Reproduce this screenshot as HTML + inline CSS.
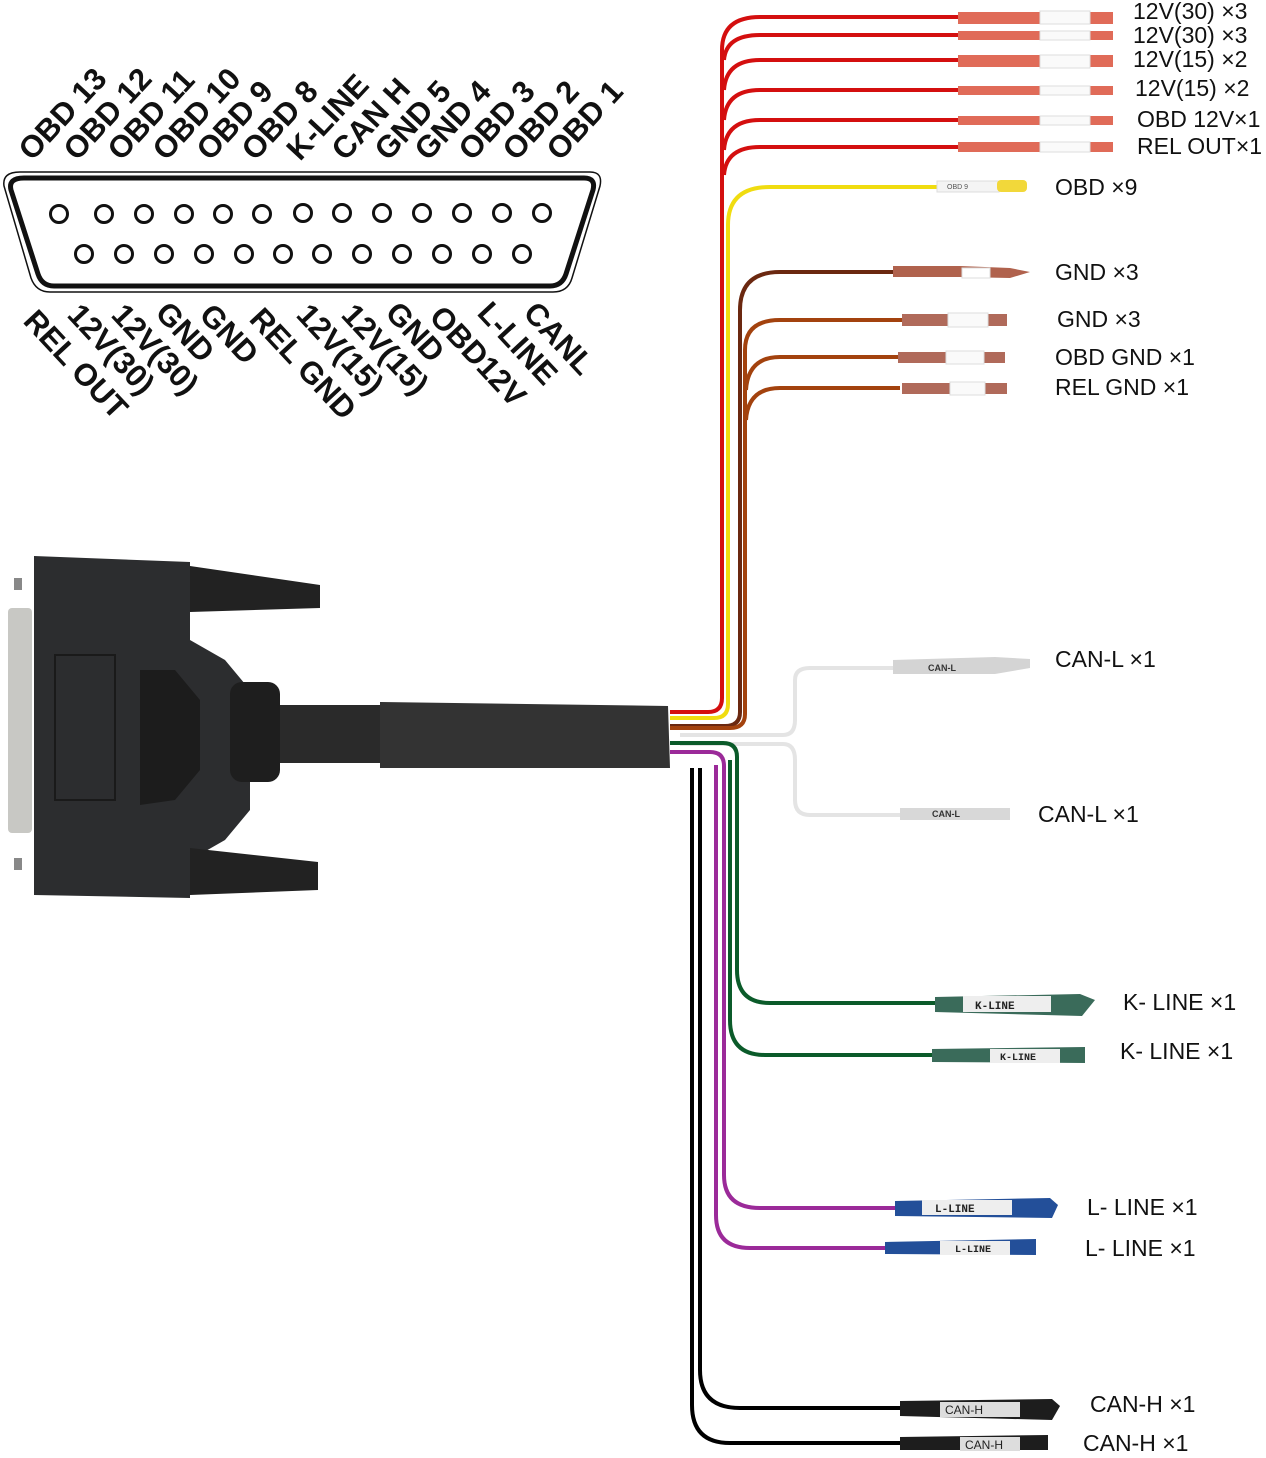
<!DOCTYPE html>
<html><head><meta charset="utf-8"><style>
html,body{margin:0;padding:0;background:#fff;}
svg{display:block;}
.lb{font-family:"Liberation Sans",sans-serif;font-weight:bold;font-size:31px;fill:#111;}
.rl{font-family:"Liberation Sans",sans-serif;font-size:23px;fill:#111;}
</style></head><body>
<svg width="1266" height="1458" viewBox="0 0 1266 1458" xmlns="http://www.w3.org/2000/svg">
<g class="lb">
<text transform="translate(32,162) rotate(-47)">OBD 13</text>
<text transform="translate(77,162) rotate(-47)">OBD 12</text>
<text transform="translate(121,162) rotate(-47)">OBD 11</text>
<text transform="translate(166,162) rotate(-47)">OBD 10</text>
<text transform="translate(210,162) rotate(-47)">OBD 9</text>
<text transform="translate(255,162) rotate(-47)">OBD 8</text>
<text transform="translate(300,162) rotate(-47)">K-LINE</text>
<text transform="translate(345,162) rotate(-47)">CAN H</text>
<text transform="translate(388,162) rotate(-47)">GND 5</text>
<text transform="translate(428,162) rotate(-47)">GND 4</text>
<text transform="translate(472,162) rotate(-47)">OBD 3</text>
<text transform="translate(516,162) rotate(-47)">OBD 2</text>
<text transform="translate(560,162) rotate(-47)">OBD 1</text>
</g>
<path d="M20,172 L590,172 Q603,172 600,186 L572,278 Q568,292 553,292 L50,292 Q36,292 31,278 L4,186 Q2,172 20,172 Z" fill="none" stroke="#111" stroke-width="1.5"/>
<path d="M24,178 L584,178 Q596,178 593,190 L566,274 Q562,286 550,286 L54,286 Q42,286 38,274 L11,190 Q8,178 24,178 Z" fill="none" stroke="#111" stroke-width="5"/>
<g fill="none" stroke="#111" stroke-width="3">
<circle cx="59" cy="214" r="8.5"/><circle cx="104" cy="214" r="8.5"/><circle cx="144" cy="214" r="8.5"/><circle cx="184" cy="214" r="8.5"/><circle cx="223" cy="214" r="8.5"/><circle cx="262" cy="214" r="8.5"/><circle cx="303" cy="213" r="8.5"/><circle cx="342" cy="213" r="8.5"/><circle cx="382" cy="213" r="8.5"/><circle cx="422" cy="213" r="8.5"/><circle cx="462" cy="213" r="8.5"/><circle cx="502" cy="213" r="8.5"/><circle cx="542" cy="213" r="8.5"/>
<circle cx="84" cy="254" r="8.5"/><circle cx="124" cy="254" r="8.5"/><circle cx="164" cy="254" r="8.5"/><circle cx="204" cy="254" r="8.5"/><circle cx="244" cy="254" r="8.5"/><circle cx="283" cy="254" r="8.5"/><circle cx="322" cy="254" r="8.5"/><circle cx="362" cy="254" r="8.5"/><circle cx="402" cy="254" r="8.5"/><circle cx="442" cy="254" r="8.5"/><circle cx="482" cy="254" r="8.5"/><circle cx="522" cy="254" r="8.5"/>
</g>
<g class="lb">
<text transform="translate(22,322) rotate(47)">REL OUT</text>
<text transform="translate(66,316) rotate(47)">12V(30)</text>
<text transform="translate(110,316) rotate(47)">12V(30)</text>
<text transform="translate(154,314) rotate(47)">GND</text>
<text transform="translate(198,316) rotate(47)">GND</text>
<text transform="translate(248,320) rotate(47)">REL GND</text>
<text transform="translate(295,316) rotate(47)">12V(15)</text>
<text transform="translate(340,316) rotate(47)">12V(15)</text>
<text transform="translate(384,314) rotate(47)">GND</text>
<text transform="translate(428,318) rotate(47)">OBD12V</text>
<text transform="translate(476,314) rotate(47)">L-LINE</text>
<text transform="translate(522,314) rotate(47)">CANL</text>
</g>

<g fill="#2c2d2f">
<rect x="14" y="578" width="8" height="12" fill="#888"/>
<rect x="14" y="858" width="8" height="12" fill="#888"/>
<rect x="8" y="608" width="24" height="225" rx="4" fill="#c8c8c4"/>
<path d="M34,556 L190,562 L190,640 L225,660 L250,690 L250,810 L225,840 L190,860 L190,898 L34,895 Z"/>
<path d="M190,566 L320,585 L320,608 L190,612 Z" fill="#222"/>
<path d="M190,848 L318,862 L318,890 L190,895 Z" fill="#222"/>
<rect x="55" y="655" width="60" height="145" fill="none" stroke="#1a1a1a" stroke-width="2"/>
<path d="M140,670 L175,670 L200,700 L200,770 L175,800 L140,805 Z" fill="#1c1c1c"/>
<rect x="230" y="682" width="50" height="100" rx="12" fill="#1e1e1e"/>
<rect x="280" y="705" width="100" height="58" fill="#2a2a2a"/>
<path d="M380,702 L668,706 L670,768 L380,768 Z" fill="#333"/>
</g>

<g fill="none" stroke="#e4e4e4" stroke-width="4">
<path d="M680,735 L783,735 Q795,735 795,720 L795,680 Q795,668 810,668 L900,668"/>
<path d="M680,744 L783,744 Q795,744 795,760 L795,800 Q795,815 810,815 L905,815"/>
</g>
<path d="M893,660 L995,657 L1030,659 L1030,668 L995,674 L893,674 Z" fill="#d4d4d4"/>
<text x="928" y="671" font-family="Liberation Sans" font-size="9" font-weight="bold" fill="#333">CAN-L</text>
<path d="M900,808 L1010,808 L1010,820 L900,820 Z" fill="#d8d8d8"/>
<text x="932" y="817" font-family="Liberation Sans" font-size="9" font-weight="bold" fill="#333">CAN-L</text>

<g fill="none" stroke="#d40f0f" stroke-width="4">
<path d="M670,712 L708,712 Q722,712 722,698 L722,50 Q722,17 760,17 L960,17"/>
<path d="M724,60 Q726,35 760,35 L960,35"/>
<path d="M724,90 Q726,60 760,60 L960,60"/>
<path d="M724,120 Q726,90 760,90 L960,90"/>
<path d="M724,150 Q726,120 760,120 L960,120"/>
<path d="M724,175 Q726,147 760,147 L960,147"/>
</g>
<g fill="#e06b58">
<rect x="958" y="12" width="155" height="12"/><rect x="958" y="31" width="155" height="9"/><rect x="958" y="55" width="155" height="12"/><rect x="958" y="86" width="155" height="9"/><rect x="958" y="116" width="155" height="9"/><rect x="958" y="142" width="155" height="10"/>
</g>
<g fill="#fafafa" stroke="#ddd" stroke-width="1">
<rect x="1040" y="11" width="50" height="13"/><rect x="1040" y="31" width="50" height="9"/><rect x="1040" y="55" width="50" height="13"/><rect x="1040" y="86" width="50" height="9"/><rect x="1040" y="116" width="50" height="9"/><rect x="1040" y="142" width="50" height="10"/>
</g>
<path d="M670,718 L714,718 Q728,718 728,704 L728,225 Q728,187 770,187 L940,187" fill="none" stroke="#f0dc10" stroke-width="4"/>
<rect x="937" y="181" width="62" height="11" fill="#f4f4f4" stroke="#ddd"/>
<rect x="997" y="180" width="30" height="12" rx="4" fill="#f2d83a"/>
<text x="947" y="189" font-family="Liberation Sans" font-size="7" fill="#555">OBD 9</text>
<g fill="none" stroke-width="4">
<path d="M670,726 L725,726 Q740,726 740,712 L740,310 Q740,272 780,272 L895,272" stroke="#6b2810"/>
<path d="M670,728 L730,728 Q745,728 745,714 L745,350 Q745,320 780,320 L905,320" stroke="#a3420e"/>
<path d="M746,390 Q748,357 780,357 L900,357" stroke="#a3420e"/>
<path d="M746,420 Q748,388 780,388 L900,388" stroke="#a3420e"/>
</g>
<path d="M893,266 L960,266 L1010,268 L1030,272 L1010,278 L960,277 L893,277 Z" fill="#b0624d"/>
<rect x="962" y="268" width="28" height="10" fill="#fff" stroke="#ddd"/>
<rect x="902" y="314" width="105" height="12" fill="#b06a5a"/><rect x="948" y="313" width="40" height="14" fill="#fafafa" stroke="#ddd"/>
<rect x="898" y="352" width="107" height="11" fill="#b06a5a"/><rect x="946" y="351" width="38" height="13" fill="#fafafa" stroke="#ddd"/>
<rect x="902" y="383" width="105" height="11" fill="#b06a5a"/><rect x="950" y="382" width="35" height="13" fill="#fafafa" stroke="#ddd"/>

<g fill="none" stroke="#0b5b2a" stroke-width="4">
<path d="M670,743 L723,743 Q737,743 737,757 L737,970 Q737,1003 770,1003 L940,1003"/>
<path d="M730,760 L730,1020 Q730,1055 765,1055 L935,1055"/>
</g>
<path d="M935,997 L1080,994 L1095,1000 L1082,1016 L935,1012 Z" fill="#3a6b5a"/>
<rect x="963" y="996" width="88" height="16" fill="#eee"/>
<text x="975" y="1009" font-family="Liberation Mono" font-size="11" font-weight="bold" fill="#222">K-LINE</text>
<path d="M932,1049 L1085,1047 L1085,1063 L932,1062 Z" fill="#3a6b5a"/>
<rect x="990" y="1049" width="70" height="14" fill="#eee"/>
<text x="1000" y="1060" font-family="Liberation Mono" font-size="10" font-weight="bold" fill="#222">K-LINE</text>
<g fill="none" stroke="#9b2a99" stroke-width="4">
<path d="M670,752 L710,752 Q724,752 724,766 L724,1175 Q724,1208 760,1208 L900,1208"/>
<path d="M716,765 L716,1215 Q716,1248 750,1248 L890,1248"/>
</g>
<path d="M895,1201 L1050,1198 L1058,1205 L1052,1218 L895,1216 Z" fill="#234f99"/>
<rect x="922" y="1200" width="90" height="15" fill="#eee"/>
<text x="935" y="1212" font-family="Liberation Mono" font-size="11" font-weight="bold" fill="#222">L-LINE</text>
<path d="M885,1242 L1036,1239 L1036,1255 L885,1254 Z" fill="#234f99"/>
<rect x="940" y="1241" width="70" height="14" fill="#eee"/>
<text x="955" y="1252" font-family="Liberation Mono" font-size="10" font-weight="bold" fill="#222">L-LINE</text>
<g fill="none" stroke="#000" stroke-width="4">
<path d="M700,768 L700,1370 Q700,1408 740,1408 L905,1408"/>
<path d="M692,768 L692,1405 Q692,1443 730,1443 L905,1443"/>
</g>
<path d="M900,1401 L1052,1399 L1060,1406 L1052,1420 L900,1416 Z" fill="#1d1d1d"/>
<rect x="940" y="1402" width="80" height="15" fill="#ddd"/>
<text x="945" y="1414" font-family="Liberation Sans" font-size="12" fill="#222">CAN-H</text>
<path d="M900,1437 L1048,1435 L1048,1450 L900,1450 Z" fill="#1d1d1d"/>
<rect x="960" y="1437" width="60" height="14" fill="#ddd"/>
<text x="965" y="1449" font-family="Liberation Sans" font-size="12" fill="#222">CAN-H</text>

<g class="rl">
<text x="1133" y="19">12V(30) ×3</text>
<text x="1133" y="43">12V(30) ×3</text>
<text x="1133" y="67">12V(15) ×2</text>
<text x="1135" y="96">12V(15) ×2</text>
<text x="1137" y="127">OBD 12V×1</text>
<text x="1137" y="154">REL OUT×1</text>
<text x="1055" y="195">OBD ×9</text>
<text x="1055" y="280">GND ×3</text>
<text x="1057" y="327">GND ×3</text>
<text x="1055" y="365">OBD GND ×1</text>
<text x="1055" y="395">REL GND ×1</text>
<text x="1055" y="667">CAN-L ×1</text>
<text x="1038" y="822">CAN-L ×1</text>
<text x="1123" y="1010">K- LINE ×1</text>
<text x="1120" y="1059">K- LINE ×1</text>
<text x="1087" y="1215">L- LINE ×1</text>
<text x="1085" y="1256">L- LINE ×1</text>
<text x="1090" y="1412">CAN-H ×1</text>
<text x="1083" y="1451">CAN-H ×1</text>
</g>
</svg>
</body></html>
